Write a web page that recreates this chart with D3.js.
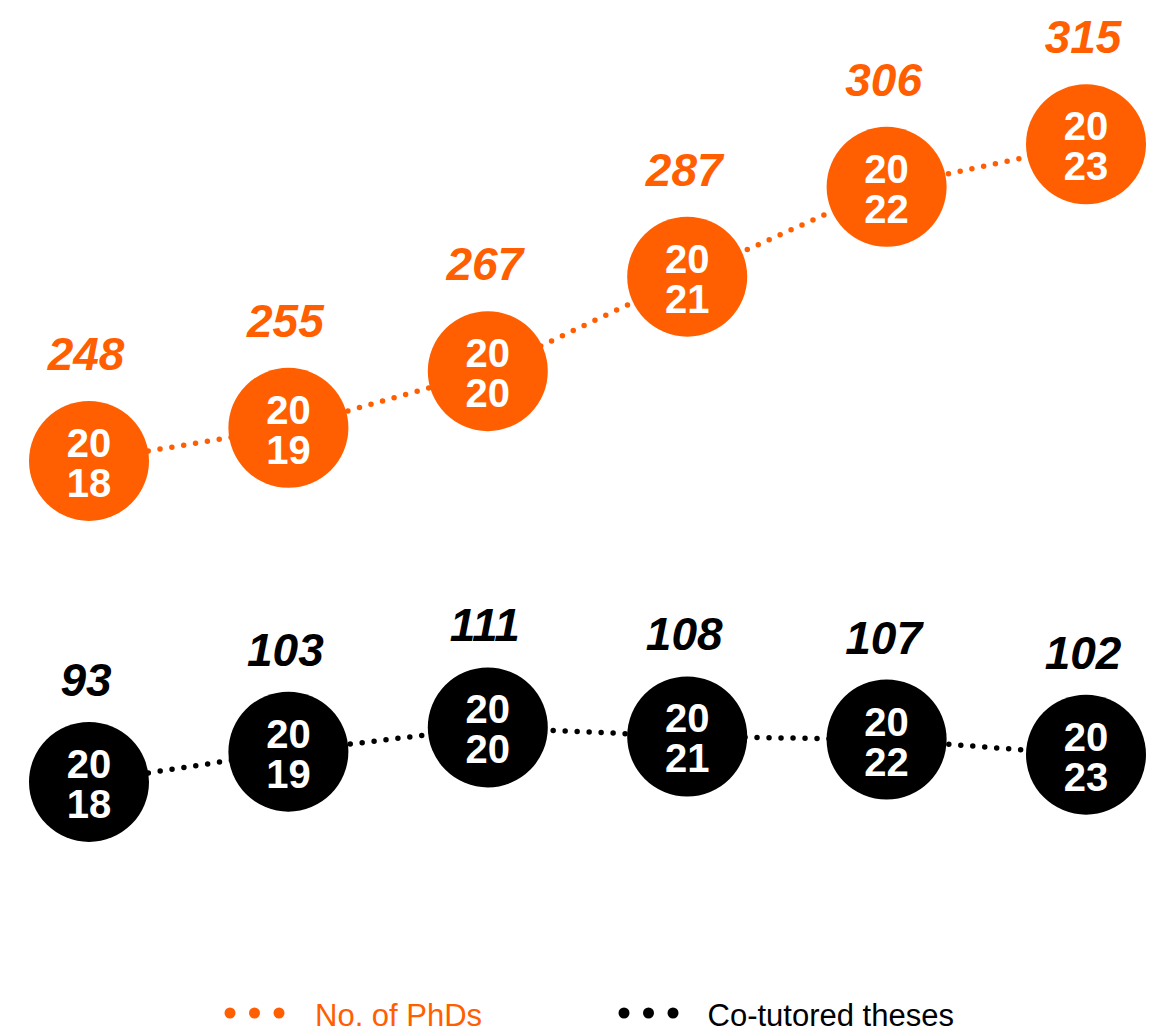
<!DOCTYPE html>
<html>
<head>
<meta charset="utf-8">
<script src="https://cdn.jsdelivr.net/npm/d3@7"></script>
<style>
  html, body { margin: 0; padding: 0; background: #fff; }
  svg { display: block; font-family: "Liberation Sans", Arial, sans-serif; }
</style>
</head>
<body>
<svg id="chart" width="1162" height="1036"></svg>
<script>
// ---- data ----
const years = ["2018", "2019", "2020", "2021", "2022", "2023"];
const phds = [248, 255, 267, 287, 306, 315];
const cotutored = [93, 103, 111, 108, 107, 102];
const seriesNames = ["No. of PhDs", "Co-tutored theses"];
const seriesColors = ["#ff5f00", "#000000"];

// ---- layout ----
const svg = d3.select("#chart");

const x = d3.scalePoint().domain(years).range([89, 1086]);
const yTop = d3.scaleLinear().domain([240, 320]).range([498.7, 120.7]);
const yBot = d3.scaleLinear().domain([90, 115]).range([791, 715.3]);

const R = 60;

function drawSeries(values, yScale, color, labelOffset) {
  const pts = years.map((yr, i) => ({ year: yr, v: values[i] }));
  const g = svg.append("g");

  const line = d3.line().x(d => x(d.year)).y(d => yScale(d.v));
  g.append("path")
    .datum(pts)
    .attr("d", line)
    .attr("fill", "none")
    .attr("stroke", color)
    .attr("stroke-width", 5.5)
    .attr("stroke-linecap", "round")
    .attr("stroke-dasharray", "0 12");

  const node = g.selectAll("g.node").data(pts).join("g")
    .attr("class", "node")
    .attr("transform", d => `translate(${x(d.year)},${yScale(d.v)})`);

  node.append("circle")
    .attr("r", R)
    .attr("fill", color);

  node.append("text")
    .attr("text-anchor", "middle")
    .attr("y", -4)
    .attr("fill", "#fff")
    .attr("font-weight", "bold")
    .attr("font-size", 40)
    .text(d => d.year.slice(0, 2));

  node.append("text")
    .attr("text-anchor", "middle")
    .attr("y", 36)
    .attr("fill", "#fff")
    .attr("font-weight", "bold")
    .attr("font-size", 40)
    .text(d => d.year.slice(2));

  node.append("text")
    .attr("text-anchor", "middle")
    .attr("x", -3)
    .attr("y", -labelOffset)
    .attr("fill", color)
    .attr("font-weight", "bold")
    .attr("font-style", "italic")
    .attr("font-size", 46)
    .text(d => d.v);
}

drawSeries(phds, yTop, seriesColors[0], 91);
drawSeries(cotutored, yBot, seriesColors[1], 86);

// ---- legend ----
const legendX = [230, 624];
const legend = svg.append("g").attr("transform", "translate(0,1013)");
seriesNames.forEach((name, i) => {
  const lg = legend.append("g").attr("transform", `translate(${legendX[i]},0)`);
  lg.selectAll("circle").data([0, 1, 2]).join("circle")
    .attr("cx", d => d * 24.5)
    .attr("cy", 0)
    .attr("r", 5.5)
    .attr("fill", seriesColors[i]);
  lg.append("text")
    .attr("x", i === 0 ? 85 : 83.5)
    .attr("y", 13)
    .attr("fill", seriesColors[i])
    .attr("font-size", 31)
    .text(name);
});
</script>
</body>
</html>
